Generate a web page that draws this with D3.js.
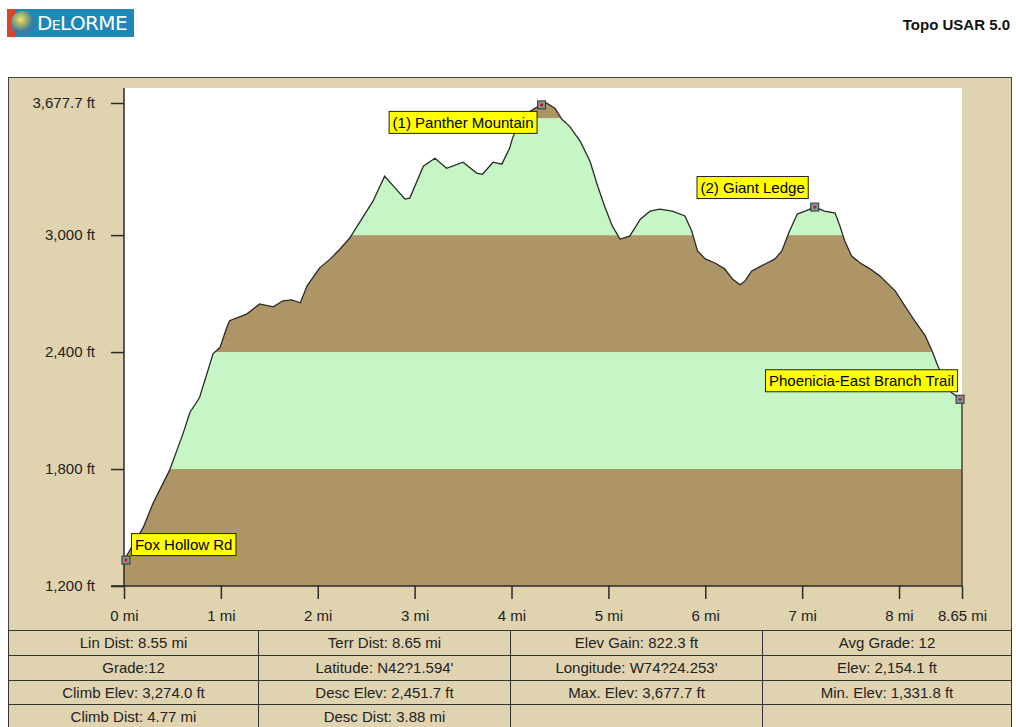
<!DOCTYPE html>
<html>
<head>
<meta charset="utf-8">
<script src="https://cdn.jsdelivr.net/npm/d3@7"></script>
<style>
  body { margin: 0; background: #fff; }
  svg { display: block; font-family: "Liberation Sans", Arial, sans-serif; }
</style>
</head>
<body>
<script>
// Profile data (distance in miles, elevation in feet)
const distMi = [0.00, 0.20, 0.30, 0.47, 0.61, 0.68, 0.78, 0.92, 0.99, 1.06, 1.09, 1.27, 1.40, 1.54, 1.64, 1.73, 1.82, 1.89,
  2.02, 2.13, 2.23, 2.33, 2.44, 2.57, 2.69, 2.80, 2.90, 2.95, 3.09, 3.21, 3.33, 3.50, 3.64, 3.70, 3.81, 3.90, 3.98,
  4.01, 4.09, 4.19, 4.29, 4.36, 4.45, 4.52, 4.60, 4.71, 4.81, 4.89, 4.96, 5.04, 5.12, 5.22, 5.33, 5.43, 5.53, 5.66,
  5.79, 5.86, 5.92, 6.00, 6.10, 6.20, 6.28, 6.36, 6.41, 6.48, 6.58, 6.72, 6.79, 6.87, 6.95, 7.03, 7.13, 7.23, 7.34,
  7.39, 7.44, 7.51, 7.60, 7.70, 7.80, 7.96, 8.06, 8.16, 8.27, 8.34, 8.40, 8.47, 8.54, 8.65]
const elevFt = [1332, 1502, 1625, 1793, 1983, 2090, 2167, 2392, 2423, 2525, 2561, 2596, 2647, 2632, 2663, 2668, 2653, 2740,
  2832, 2878, 2929, 2985, 3072, 3174, 3302, 3241, 3185, 3190, 3353, 3394, 3343, 3374, 3318, 3312, 3374, 3364, 3445,
  3497, 3594, 3635, 3665, 3677.7, 3650, 3594, 3558, 3481, 3379, 3251, 3149, 3047, 2980, 2995, 3082, 3123, 3133, 3123,
  3098, 3021, 2919, 2878, 2857, 2827, 2775, 2745, 2765, 2816, 2842, 2878, 2919, 3021, 3108, 3123, 3144, 3123, 3113,
  3047, 2970, 2893, 2857, 2827, 2791, 2714, 2637, 2561, 2484, 2407, 2330, 2254, 2192, 2154.1]

// Axis ticks
const xTicks = [0, 1, 2, 3, 4, 5, 6, 7, 8, 8.65]
const xTickLabels = ["0 mi", "1 mi", "2 mi", "3 mi", "4 mi", "5 mi", "6 mi", "7 mi", "8 mi", "8.65 mi"]
const yTicks = [1200, 1800, 2400, 3000, 3677.7]
const yTickLabels = ["1,200 ft", "1,800 ft", "2,400 ft", "3,000 ft", "3,677.7 ft"]

// Elevation bands
const bandEdges = [1200, 1800, 2400, 3000, 3600, 3700]

// Waypoints
const wpNames = ["Fox Hollow Rd", "(1) Panther Mountain", "(2) Giant Ledge", "Phoenicia-East Branch Trail"]
const wpMi = [0.02, 4.31, 7.13, 8.63]
const wpFt = [1333, 3668, 3144, 2158]

// Stats table
const statsRows = [
  ["Lin Dist: 8.55 mi", "Terr Dist: 8.65 mi", "Elev Gain: 822.3 ft", "Avg Grade: 12"],
  ["Grade:12", "Latitude: N42?1.594'", "Longitude: W74?24.253'", "Elev: 2,154.1 ft"],
  ["Climb Elev: 3,274.0 ft", "Desc Elev: 2,451.7 ft", "Max. Elev: 3,677.7 ft", "Min. Elev: 1,331.8 ft"],
  ["Climb Dist: 4.77 mi", "Desc Dist: 3.88 mi", "", ""]
]

const W = 1016, H = 727
const plot = { left: 124, right: 962, top: 88, bottom: 586 }
const TAN = "#e0d3b0", BROWN = "#ae9565", GREEN = "#c6f6c6", LINE = "#2a2a2a"
const FONT = "15px"

const svg = d3.select("body").append("svg").attr("width", W).attr("height", H)

// Header: logo + product name
const logo = svg.append("g")
const defs = svg.append("defs")
const globeGrad = defs.append("radialGradient").attr("id", "globe").attr("cx", "40%").attr("cy", "35%")
globeGrad.append("stop").attr("offset", "0%").attr("stop-color", "#f3e27a")
globeGrad.append("stop").attr("offset", "50%").attr("stop-color", "#9bb06a")
globeGrad.append("stop").attr("offset", "100%").attr("stop-color", "#3b79a8")
logo.append("rect").attr("x", 7).attr("y", 9).attr("width", 127).attr("height", 28).attr("fill", "#1d88b8")
logo.append("rect").attr("x", 7).attr("y", 9).attr("width", 8).attr("height", 28).attr("fill", "#d8452c")
logo.append("circle").attr("cx", 23).attr("cy", 23).attr("r", 12).attr("fill", "url(#globe)")
logo.append("text").attr("x", 37).attr("y", 30)
  .attr("fill", "#fff").style("font-size", "20px").style("font-variant", "small-caps")
  .style("font-family", "'DejaVu Sans', sans-serif").style("letter-spacing", "-0.6px")
  .text("DeLORME")

svg.append("text").attr("x", 1010).attr("y", 30).attr("text-anchor", "end")
  .style("font-size", "15px").style("font-weight", "bold").attr("fill", "#111")
  .text("Topo USAR 5.0")

// Frame
svg.append("rect").attr("x", 8.5).attr("y", 77.5).attr("width", 1003).attr("height", 660)
  .attr("fill", TAN).attr("stroke", "#444")
svg.append("rect").attr("x", plot.left).attr("y", plot.top)
  .attr("width", plot.right - plot.left).attr("height", plot.bottom - plot.top).attr("fill", "#fff")

// Scales
const x = d3.scaleLinear().domain([0, 8.65]).range([plot.left, plot.right])
const y = d3.scaleLinear().domain([1200, 3677.7]).range([plot.bottom, 103])

const profile = distMi.map((d, i) => ({ mi: d, ft: elevFt[i] }))

// Banded area under the profile
const area = d3.area().x(d => x(d.mi)).y0(y(1200)).y1(d => y(d.ft))
defs.append("clipPath").attr("id", "under").append("path").attr("d", area(profile))

const bands = d3.range(bandEdges.length - 1).map(i => ({ lo: bandEdges[i], hi: bandEdges[i + 1], i }))
svg.append("g").attr("clip-path", "url(#under)")
  .selectAll("rect").data(bands).enter().append("rect")
  .attr("x", plot.left).attr("width", plot.right - plot.left)
  .attr("y", d => y(d.hi)).attr("height", d => y(d.lo) - y(d.hi))
  .attr("fill", d => d.i % 2 === 0 ? BROWN : GREEN)

// Profile outline
const line = d3.line().x(d => x(d.mi)).y(d => y(d.ft))
const last = profile[profile.length - 1]
svg.append("path").attr("d", line(profile) + `L${x(last.mi)},${y(1200)}`)
  .attr("fill", "none").attr("stroke", LINE).attr("stroke-width", 1.3)

// Axes
const yAxis = d3.axisLeft(y).tickValues(yTicks).tickSize(13).tickPadding(16)
  .tickFormat((d, i) => yTickLabels[i])
const gy = svg.append("g").attr("transform", `translate(${plot.left},0)`).call(yAxis)
const xAxis = d3.axisBottom(x).tickValues(xTicks).tickSize(13).tickPadding(11)
  .tickFormat((d, i) => xTickLabels[i])
const gx = svg.append("g").attr("transform", `translate(0,${plot.bottom})`).call(xAxis)
;[gx, gy].forEach(g => {
  g.select(".domain").remove()
  g.selectAll("line").attr("stroke", LINE).attr("stroke-width", 1.5)
  g.selectAll("text").attr("fill", "#222").style("font-size", FONT).style("font-family", "'Liberation Sans', Arial, sans-serif")
})
svg.append("line").attr("x1", plot.left).attr("x2", plot.left).attr("y1", plot.top).attr("y2", plot.bottom)
  .attr("stroke", LINE).attr("stroke-width", 1.5)
svg.append("line").attr("x1", plot.left - 13).attr("x2", plot.right).attr("y1", plot.bottom).attr("y2", plot.bottom)
  .attr("stroke", LINE).attr("stroke-width", 1.5)

// Waypoint markers and labels
const labelPlace = [
  (bx, by, w, h) => [bx + 5, by - 5 - h],
  (bx, by, w, h) => [bx - 5 - w, by + 6],
  (bx, by, w, h) => [bx - 7 - w, by - 9 - h],
  (bx, by, w, h) => [bx - 3 - w, by - 8 - h]
]
const wp = svg.append("g")
wpNames.forEach((name, i) => {
  const px = x(wpMi[i]), py = y(wpFt[i])
  wp.append("rect").attr("x", px - 4).attr("y", py - 4).attr("width", 8).attr("height", 8)
    .attr("fill", "#7f9696").attr("stroke", "#333").attr("stroke-width", 1)
  wp.append("circle").attr("cx", px).attr("cy", py).attr("r", 1.6).attr("fill", "#d01818")

  const g = wp.append("g")
  const t = g.append("text").style("font-size", FONT).attr("fill", "#000").text(name)
  const w = t.node().getComputedTextLength() + 7, h = 22
  const [lx, ly] = labelPlace[i](px, py, w, h)
  g.insert("rect", "text").attr("x", lx + 0.5).attr("y", ly + 0.5).attr("width", w).attr("height", h)
    .attr("fill", "#ffff00").attr("stroke", "#222")
  t.attr("x", lx + 4).attr("y", ly + 17)
})

// Stats table
const colX = [8.5, 258.5, 510.5, 762.5, 1011.5]
const rowY = [630.5, 655.5, 680.5, 704.5, 729.5]
const table = svg.append("g")
statsRows.forEach((row, r) => {
  row.forEach((txt, c) => {
    table.append("rect").attr("x", colX[c]).attr("y", rowY[r])
      .attr("width", colX[c + 1] - colX[c]).attr("height", rowY[r + 1] - rowY[r])
      .attr("fill", TAN).attr("stroke", "#333")
    table.append("text").attr("x", (colX[c] + colX[c + 1]) / 2).attr("y", rowY[r] + 17)
      .attr("text-anchor", "middle").style("font-size", FONT).attr("fill", "#222").text(txt)
  })
})
</script>
</body>
</html>
